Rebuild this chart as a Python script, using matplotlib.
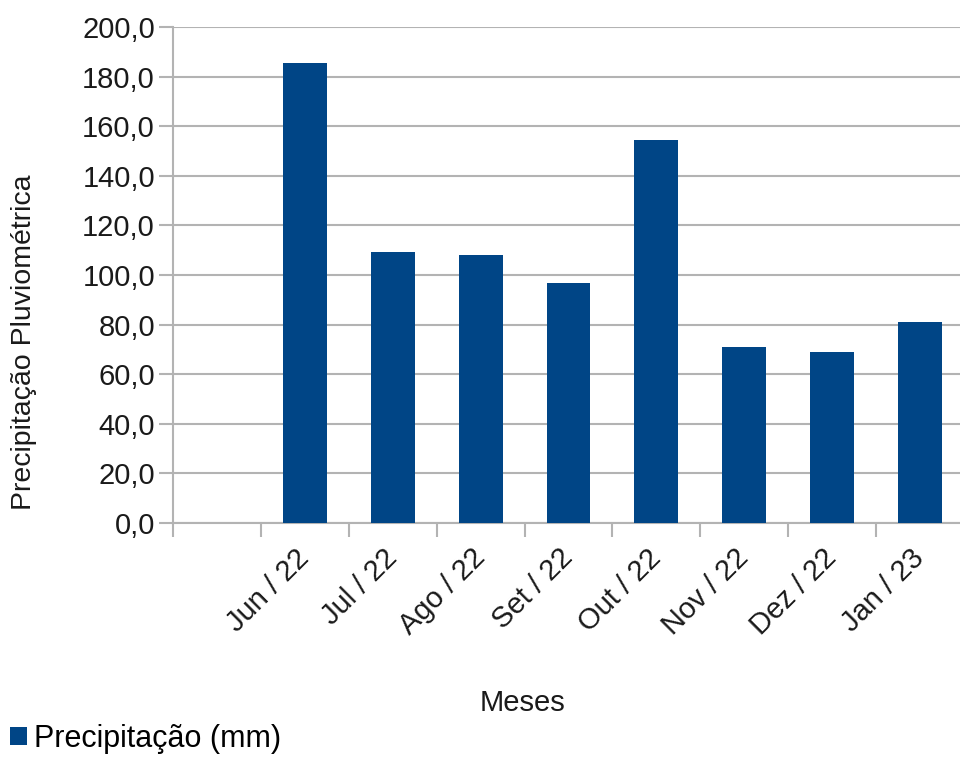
import numpy as np
import matplotlib
matplotlib.use('Agg')
import matplotlib.pyplot as plt
from matplotlib.ticker import FuncFormatter

meses = ['', 'Jun / 22', 'Jul / 22', 'Ago / 22', 'Set / 22', 'Out / 22',
         'Nov / 22', 'Dez / 22', 'Jan / 23']
precip = [np.nan, 185.5, 109.3, 108.0, 96.8, 154.4, 71.0, 69.0, 81.0]
yticks = np.arange(0, 201, 20)

plt.rcParams['font.family'] = ['Liberation Sans', 'DejaVu Sans']
cor = '#004586'
cinza = '#b3b3b3'
txt = '#1a1a1a'

fig = plt.figure(figsize=(9.6, 7.6), dpi=100)
ax = fig.add_axes([173/960, 1-523/760, (964-173)/960, (523-27)/760])

x = np.arange(len(meses))
barras = ax.bar(x, precip, width=0.5, color=cor, zorder=3, label='Precipitação (mm)')

ax.set_xlim(-0.5, len(meses)-0.5)
ax.set_ylim(0, 200)
ax.set_yticks(yticks)
ax.yaxis.set_major_formatter(FuncFormatter(lambda v, p: ('%.1f' % v).replace('.', ',')))
ax.yaxis.grid(True, color=cinza, linewidth=1.5, zorder=0)
ax.tick_params(axis='y', length=10, width=1.5, color=cinza, labelsize=21,
               labelcolor=txt, pad=3)

ax.set_xticks(x)
ax.set_xticklabels(meses, rotation=45, ha='right', va='center', rotation_mode='anchor')
ax.tick_params(axis='x', which='major', length=0, labelsize=21, labelcolor=txt, pad=22)
ax.set_xticks(np.arange(-0.5, len(meses)), minor=True)
ax.tick_params(axis='x', which='minor', length=10, width=1.5, color=cinza)

for s in ['top', 'right']:
    ax.spines[s].set_visible(False)
for s in ['left', 'bottom']:
    ax.spines[s].set_color(cinza)
    ax.spines[s].set_linewidth(1.5)

fig.text(522/960, 1-703/760, 'Meses', ha='center', va='center', fontsize=21, color=txt)
fig.text(24/960, 1-342/760, 'Precipitação Pluviométrica', ha='center', va='center',
         rotation=90, fontsize=20.5, color=txt)

fig.legend(handles=[barras], loc='center left', bbox_to_anchor=(10/960, 1-739/760),
           frameon=False, fontsize=22, handlelength=0.55, handleheight=0.55,
           handletextpad=0.25, borderpad=0, borderaxespad=0)

fig.savefig('out.png', dpi=100)
